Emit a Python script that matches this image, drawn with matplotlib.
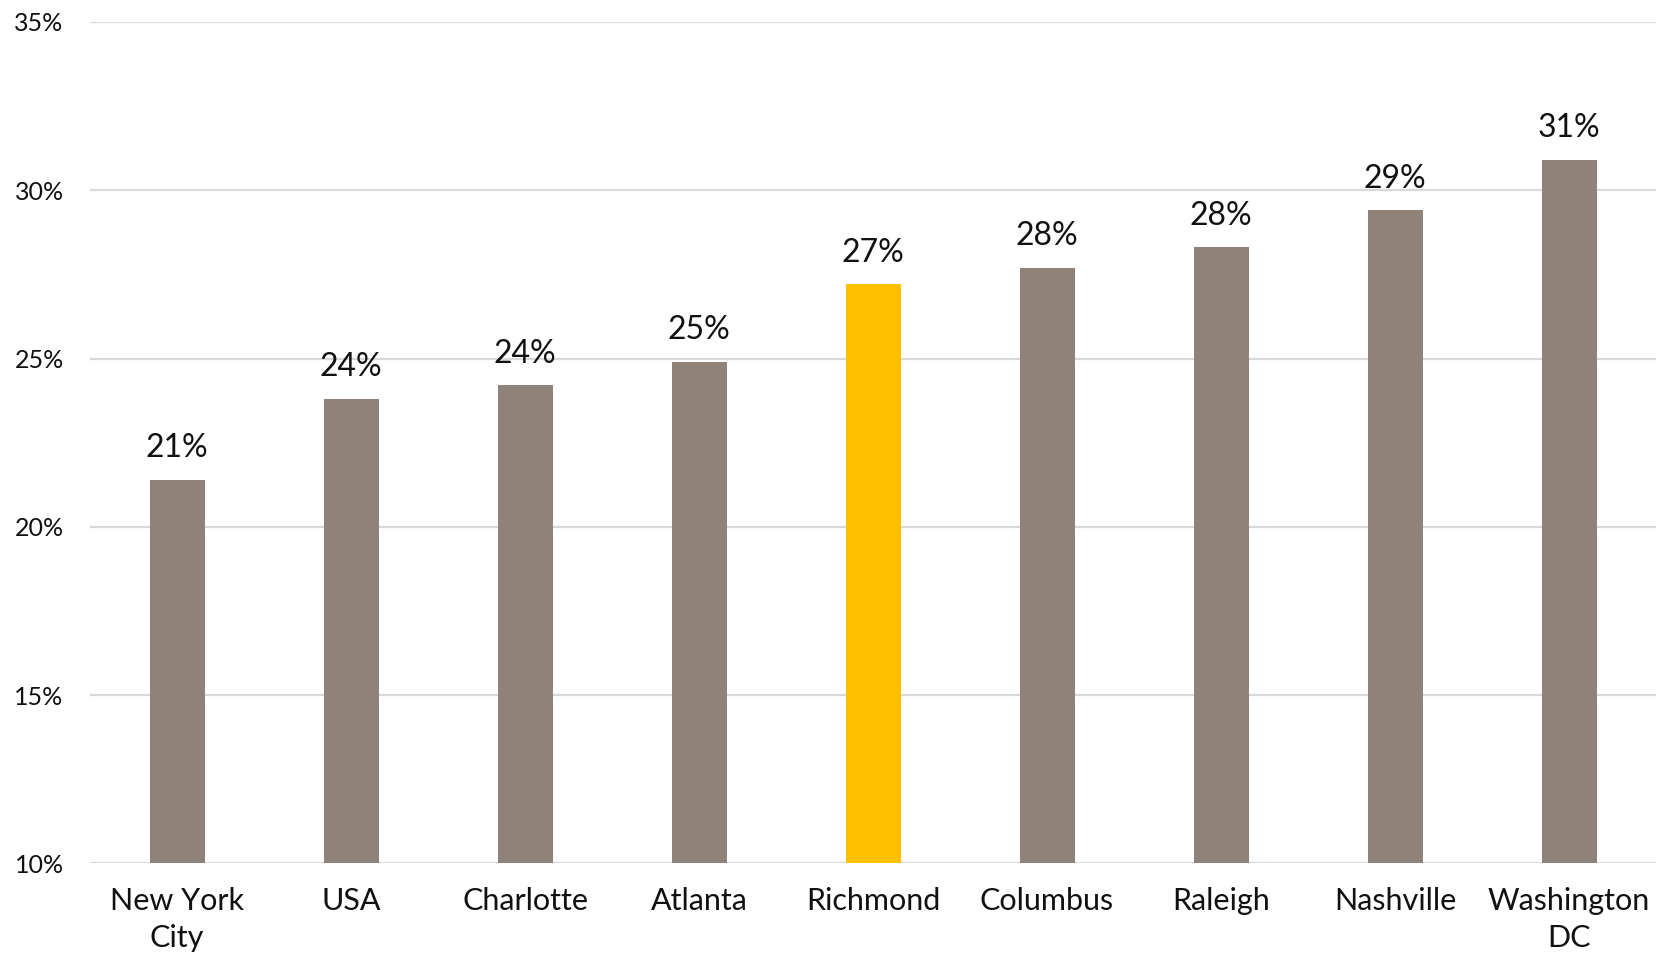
import matplotlib.pyplot as plt

# Share of population per metro area (percent)
cities = ["New York\nCity", "USA", "Charlotte", "Atlanta", "Richmond",
          "Columbus", "Raleigh", "Nashville", "Washington\nDC"]
values = [21.4, 23.8, 24.2, 24.9, 27.2, 27.7, 28.3, 29.4, 30.9]
highlight = "Richmond"
yticks = [10, 15, 20, 25, 30, 35]

gray = "#8E8279"
gold = "#FFC000"
colors = [gold if c == highlight else gray for c in cities]

plt.rcParams['font.family'] = ['Lato', 'DejaVu Sans']

fig = plt.figure(figsize=(16.58, 9.55), dpi=100)
ax = fig.add_axes([0.0543, 0.096, 0.9445, 0.881])

x = range(len(cities))
bars = ax.bar(x, values, width=0.316, color=colors, zorder=3)

# value labels above each bar
for b, v in zip(bars, values):
    ax.text(b.get_x() + b.get_width() / 2, v + 0.5, f"{v:.0f}%",
            ha="center", va="bottom", fontsize=23, color="#111111")

ax.set_xlim(-0.5, len(cities) - 0.5)
ax.set_ylim(10, 35)
ax.set_yticks(yticks)
ax.set_yticklabels([f"{t}%" for t in yticks], fontsize=18, color="#111111")
ax.set_xticks(list(x))
ax.set_xticklabels(cities, fontsize=22, color="#111111", linespacing=1.4)
ax.tick_params(axis="both", length=0)
ax.tick_params(axis="y", pad=19)
ax.tick_params(axis="x", pad=17)

ax.grid(axis="y", color="#D9D9D9", linewidth=1.6, zorder=0)
for s in ax.spines.values():
    s.set_visible(False)

fig.savefig("out.png", dpi=100)
